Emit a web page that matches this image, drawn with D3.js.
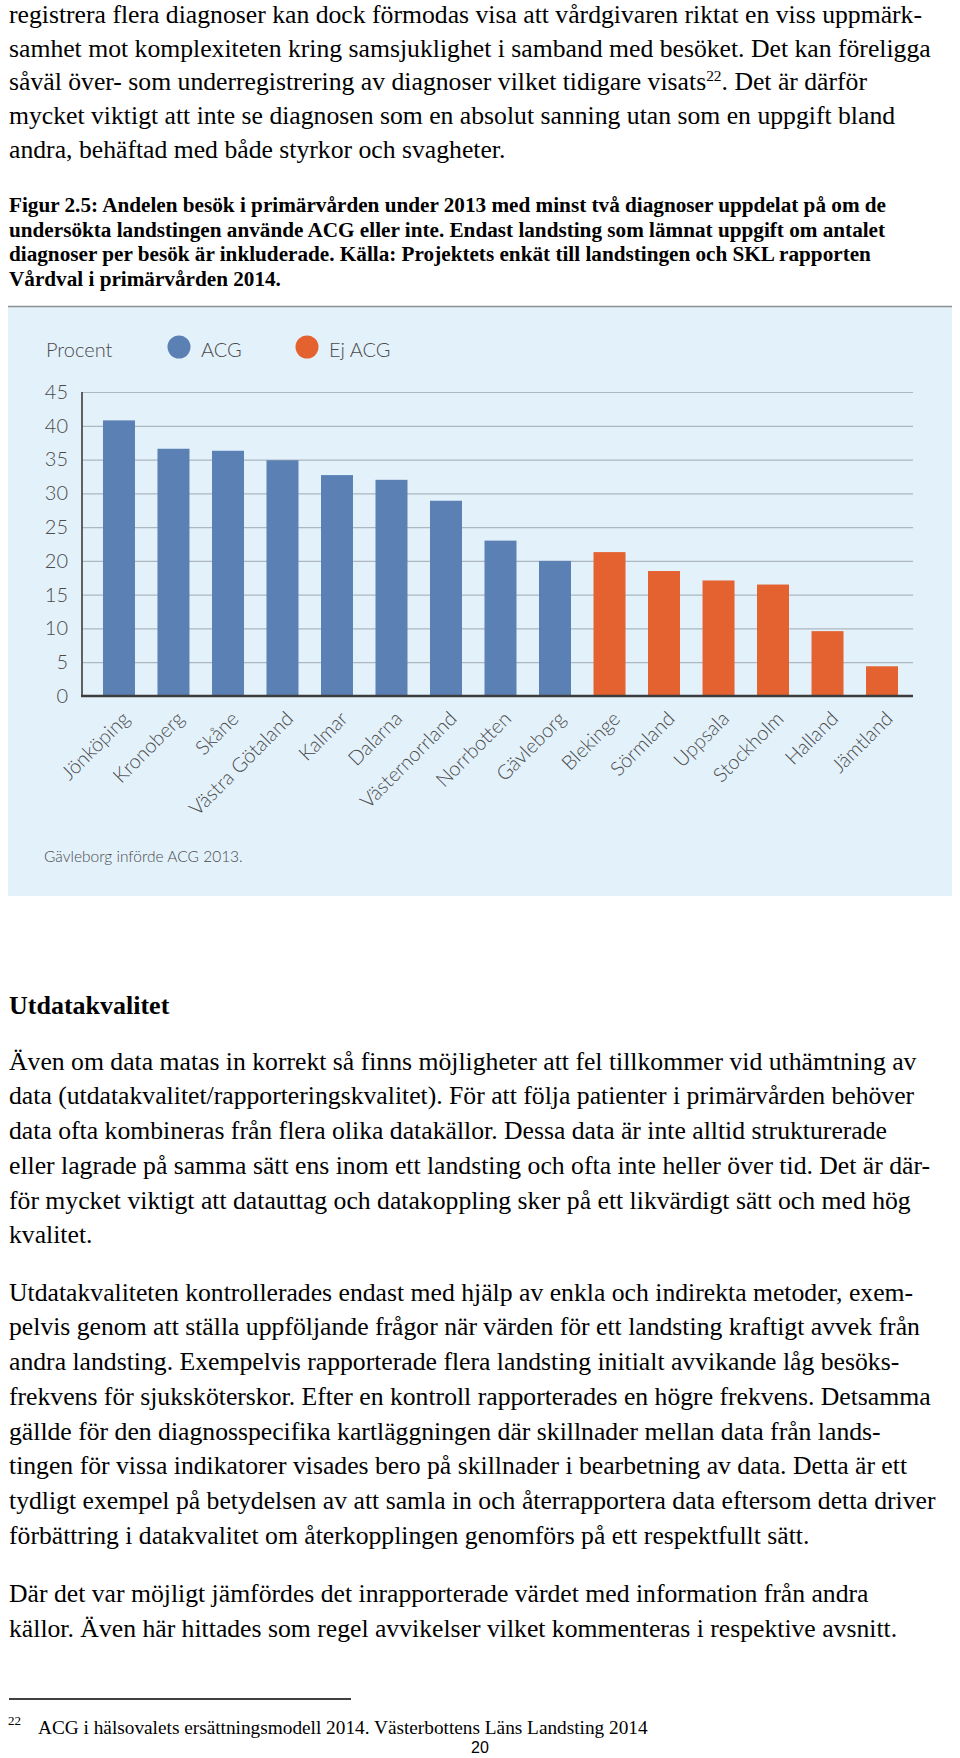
<!DOCTYPE html>
<html>
<head>
<meta charset="utf-8">
<script src="https://cdn.jsdelivr.net/npm/d3@7"></script>
<style>
  html, body { margin: 0; padding: 0; background: #fff; }
  svg { display: block; }
</style>
</head>
<body>
<svg id="page" width="960" height="1758"></svg>
<script>
// ---------- chart data ----------
const regions = ["Jönköping","Kronoberg","Skåne","Västra Götaland","Kalmar","Dalarna","Västernorrland","Norrbotten","Gävleborg","Blekinge","Sörmland","Uppsala","Stockholm","Halland","Jämtland"];
const values  = [40.8, 36.6, 36.3, 34.9, 32.7, 32.0, 28.9, 23.0, 20.0, 21.3, 18.5, 17.1, 16.5, 9.6, 4.4];
const groups  = ["ACG","ACG","ACG","ACG","ACG","ACG","ACG","ACG","ACG","Ej ACG","Ej ACG","Ej ACG","Ej ACG","Ej ACG","Ej ACG"];
const seriesNames = ["ACG", "Ej ACG"];
const seriesColors = ["#5b80b4", "#e4622f"];
const yTicks = [0, 5, 10, 15, 20, 25, 30, 35, 40, 45];
const yLabel = "Procent";
const chartNote = "Gävleborg införde ACG 2013.";

// ---------- page text ----------
const topLines = [
  "registrera flera diagnoser kan dock förmodas visa att vårdgivaren riktat en viss uppmärk-",
  "samhet mot komplexiteten kring samsjuklighet i samband med besöket. Det kan föreligga",
  "såväl över- som underregistrering av diagnoser vilket tidigare visats|22|. Det är därför",
  "mycket viktigt att inte se diagnosen som en absolut sanning utan som en uppgift bland",
  "andra, behäftad med både styrkor och svagheter."
];
const captionLines = [
  "Figur 2.5: Andelen besök i primärvården under 2013 med minst två diagnoser uppdelat på om de",
  "undersökta landstingen använde ACG eller inte. Endast landsting som lämnat uppgift om antalet",
  "diagnoser per besök är inkluderade. Källa: Projektets enkät till landstingen och SKL rapporten",
  "Vårdval i primärvården 2014."
];
const heading = "Utdatakvalitet";
const para1 = [
  "Även om data matas in korrekt så finns möjligheter att fel tillkommer vid uthämtning av",
  "data (utdatakvalitet/rapporteringskvalitet). För att följa patienter i primärvården behöver",
  "data ofta kombineras från flera olika datakällor. Dessa data är inte alltid strukturerade",
  "eller lagrade på samma sätt ens inom ett landsting och ofta inte heller över tid. Det är där-",
  "för mycket viktigt att datauttag och datakoppling sker på ett likvärdigt sätt och med hög",
  "kvalitet."
];
const para2 = [
  "Utdatakvaliteten kontrollerades endast med hjälp av enkla och indirekta metoder, exem-",
  "pelvis genom att ställa uppföljande frågor när värden för ett landsting kraftigt avvek från",
  "andra landsting. Exempelvis rapporterade flera landsting initialt avvikande låg besöks-",
  "frekvens för sjuksköterskor. Efter en kontroll rapporterades en högre frekvens. Detsamma",
  "gällde för den diagnosspecifika kartläggningen där skillnader mellan data från lands-",
  "tingen för vissa indikatorer visades bero på skillnader i bearbetning av data. Detta är ett",
  "tydligt exempel på betydelsen av att samla in och återrapportera data eftersom detta driver",
  "förbättring i datakvalitet om återkopplingen genomförs på ett respektfullt sätt."
];
const para3 = [
  "Där det var möjligt jämfördes det inrapporterade värdet med information från andra",
  "källor. Även här hittades som regel avvikelser vilket kommenteras i respektive avsnitt."
];
const footnoteNum = "22";
const footnoteText = "ACG i hälsovalets ersättningsmodell 2014. Västerbottens Läns Landsting 2014";
const pageNumber = "20";

// ---------- drawing ----------
const svg = d3.select("#page");
const serif = "'Liberation Serif', 'Times New Roman', serif";
const sans = "Lato, 'Open Sans', sans-serif";

function textBlock(lines, x, y0, lh, size, weight) {
  const g = svg.append("g")
    .attr("font-family", serif).attr("font-size", size)
    .attr("font-weight", weight).attr("fill", "#000");
  lines.forEach((ln, i) => {
    const t = g.append("text").attr("x", x).attr("y", y0 + i * lh);
    const parts = ln.split("|");
    parts.forEach((p, j) => {
      if (j % 2 === 1) {
        t.append("tspan").attr("font-size", size * 0.6).attr("dy", -size * 0.36).text(p);
      } else {
        const ts = t.append("tspan").text(p);
        if (j > 0) ts.attr("dy", size * 0.36);
      }
    });
  });
}

textBlock(topLines, 9, 23, 33.7, 25.7, "normal");
textBlock(captionLines, 9, 212, 24.7, 21.2, "bold");

// chart panel
const panel = { x0: 8, x1: 952, y0: 306, y1: 896 };
svg.append("rect")
  .attr("x", panel.x0).attr("y", panel.y0)
  .attr("width", panel.x1 - panel.x0).attr("height", panel.y1 - panel.y0)
  .attr("fill", "#e3f1fb");
svg.append("line")
  .attr("x1", panel.x0).attr("x2", panel.x1)
  .attr("y1", panel.y0 + 0.5).attr("y2", panel.y0 + 0.5)
  .attr("stroke", "#8a8f94").attr("stroke-width", 1.5);

const plot = { left: 82, right: 913, top: 392, bottom: 696 };
const x = d3.scaleBand().domain(regions).range([plot.left, 919])
  .paddingInner(0.413).paddingOuter(0.385);
const y = d3.scaleLinear().domain([0, 45]).range([plot.bottom, plot.top]);
const color = d3.scaleOrdinal().domain(seriesNames).range(seriesColors);

// gridlines + y labels
const yAxis = svg.append("g")
  .attr("transform", `translate(${plot.left},0)`)
  .call(d3.axisLeft(y).tickValues(yTicks).tickSize(-(plot.right - plot.left)).tickPadding(14));
yAxis.select(".domain").remove();
yAxis.selectAll(".tick line").attr("stroke", "#adb7c0").attr("stroke-width", 1.2);
yAxis.selectAll(".tick text")
  .attr("font-family", sans).attr("font-size", 20).attr("font-weight", 300)
  .attr("fill", "#4a4a4a");

// bars
svg.append("g").selectAll("rect").data(regions).join("rect")
  .attr("x", d => x(d))
  .attr("y", (d, i) => y(values[i]))
  .attr("width", x.bandwidth())
  .attr("height", (d, i) => y(0) - y(values[i]))
  .attr("fill", (d, i) => color(groups[i]));

// axis lines
svg.append("line").attr("x1", plot.left).attr("x2", plot.left)
  .attr("y1", plot.top).attr("y2", plot.bottom)
  .attr("stroke", "#3d3d3d").attr("stroke-width", 1.6);
const xAxis = svg.append("g")
  .attr("transform", `translate(0,${plot.bottom})`)
  .call(d3.axisBottom(x).tickSize(0).tickPadding(0));
xAxis.select(".domain").remove();
svg.append("line").attr("x1", plot.left - 1).attr("x2", plot.right)
  .attr("y1", plot.bottom).attr("y2", plot.bottom)
  .attr("stroke", "#3d3d3d").attr("stroke-width", 2.4);
xAxis.selectAll(".tick text")
  .attr("font-family", sans).attr("font-size", 20).attr("font-weight", 300)
  .attr("fill", "#4a4a4a")
  .attr("text-anchor", "end")
  .attr("dy", null)
  .attr("transform", "translate(12,24) rotate(-45)");

// legend
svg.append("text").attr("x", 46).attr("y", 357)
  .attr("font-family", sans).attr("font-size", 20).attr("font-weight", 300)
  .attr("fill", "#4a4a4a").text(yLabel);
const legendX = [179, 307];
const leg = svg.append("g").selectAll("g").data(seriesNames).join("g")
  .attr("transform", (d, i) => `translate(${legendX[i]},347)`);
leg.append("circle").attr("r", 11.5).attr("fill", d => color(d));
leg.append("text").attr("x", 22).attr("y", 10)
  .attr("font-family", sans).attr("font-size", 20).attr("font-weight", 300)
  .attr("fill", "#4a4a4a").text(d => d);

// note
svg.append("text").attr("x", 44).attr("y", 862)
  .attr("font-family", sans).attr("font-size", 15.5).attr("font-weight", 300)
  .attr("fill", "#4a4a4a").text(chartNote);

// heading and paragraphs
svg.append("text").attr("x", 9).attr("y", 1014)
  .attr("font-family", serif).attr("font-size", 26).attr("font-weight", "bold")
  .text(heading);
textBlock(para1, 9, 1069.7, 34.75, 25.7, "normal");
textBlock(para2, 9, 1300.7, 34.75, 25.7, "normal");
textBlock(para3, 9, 1602.4, 34.75, 25.7, "normal");

// footnote
svg.append("line").attr("x1", 9).attr("x2", 351).attr("y1", 1699).attr("y2", 1699)
  .attr("stroke", "#000").attr("stroke-width", 1.5);
svg.append("text").attr("x", 8).attr("y", 1725)
  .attr("font-family", serif).attr("font-size", 13).text(footnoteNum);
svg.append("text").attr("x", 38).attr("y", 1734)
  .attr("font-family", serif).attr("font-size", 19.3).text(footnoteText);
svg.append("text").attr("x", 480).attr("y", 1753).attr("text-anchor", "middle")
  .attr("font-family", "'Liberation Sans', Arial, sans-serif").attr("font-size", 16)
  .text(pageNumber);
</script>
</body>
</html>
